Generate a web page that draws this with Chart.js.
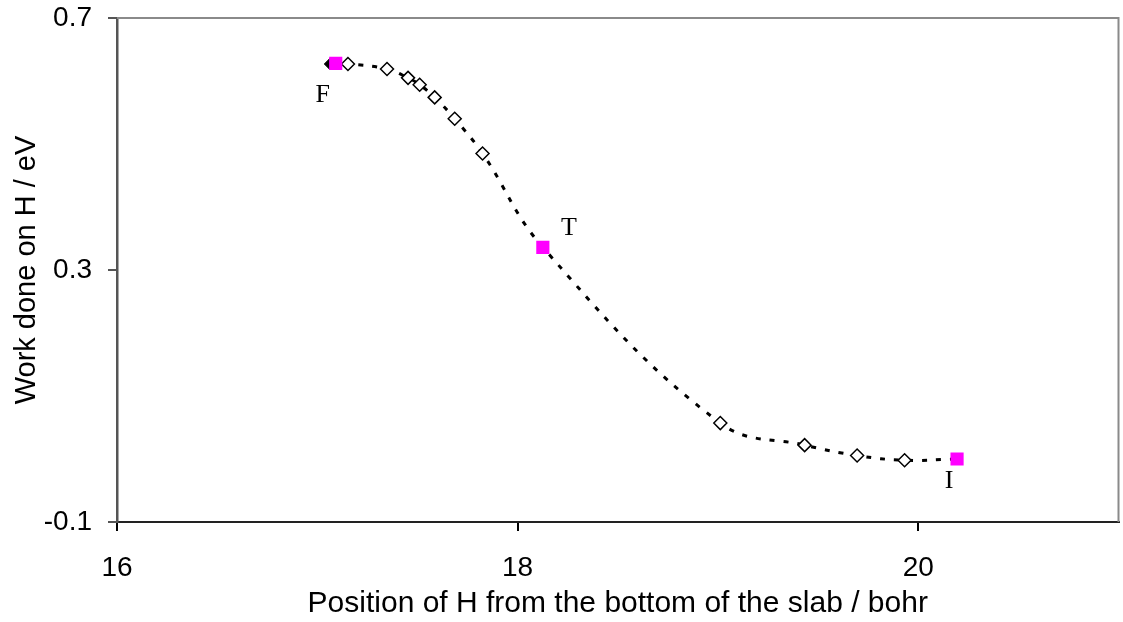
<!DOCTYPE html>
<html>
<head>
<meta charset="utf-8">
<script src="https://cdn.jsdelivr.net/npm/chart.js@4.4.1/dist/chart.umd.min.js"></script>
<style>
  html, body { margin: 0; padding: 0; background: #fff; }
  #wrap { width: 1123px; height: 622px; }
</style>
</head>
<body>
<div id="wrap"><canvas id="workChart" width="1123" height="622"></canvas></div>
<script>
// data
const pathX = [17.065, 17.153, 17.348, 17.453, 17.511, 17.586, 17.686, 17.825, 18.126, 19.012, 19.433, 19.695, 19.932, 20.194];
const pathY = [0.627, 0.627, 0.619, 0.605, 0.594, 0.574, 0.540, 0.485, 0.336, 0.057, 0.022, 0.0055, -0.002, 0.000];

const diamondX = [17.153, 17.348, 17.453, 17.511, 17.586, 17.686, 17.825, 19.012, 19.433, 19.695, 19.932];
const diamondY = [0.627, 0.619, 0.605, 0.594, 0.574, 0.540, 0.485, 0.057, 0.022, 0.0055, -0.002];

const startX = [17.065];
const startY = [0.627];

const keyX = [17.092, 18.126, 20.194];
const keyY = [0.628, 0.336, 0.000];
const keyLabels = ['F', 'T', 'I'];

const xTicks = [16, 18, 20];
const yTicks = [-0.1, 0.3, 0.7];

const toPoints = (xs, ys) => xs.map((x, i) => ({ x: x, y: ys[i] }));

document.addEventListener('DOMContentLoaded', () => {

    // 1. FRAME (top + right edges) AND F/T/I LABELS
    const framePlugin = {
        id: 'frame',
        afterDraw(chart) {
            const { ctx, chartArea: a, scales } = chart;
            ctx.save();
            ctx.strokeStyle = '#8a8a8a';
            ctx.lineWidth = 2;
            ctx.beginPath();
            ctx.moveTo(a.left, a.top);
            ctx.lineTo(a.right, a.top);
            ctx.lineTo(a.right, a.bottom);
            ctx.stroke();

            // label offsets from each key point, in px
            const offs = [[-13, 32], [26, -19], [-8, 22]];
            ctx.fillStyle = '#000';
            ctx.font = '26px "Liberation Serif", "Times New Roman", serif';
            ctx.textAlign = 'center';
            ctx.textBaseline = 'middle';
            keyLabels.forEach((t, i) => {
                const px = scales.x.getPixelForValue(keyX[i]) + offs[i][0];
                const py = scales.y.getPixelForValue(keyY[i]) + offs[i][1];
                ctx.fillText(t, px, py);
            });
            ctx.restore();
        }
    };

    const sans = '"Liberation Sans", Arial, sans-serif';

    // 2. CHART
    const ctx = document.getElementById('workChart').getContext('2d');
    new Chart(ctx, {
        type: 'scatter',
        data: {
            datasets: [
                {
                    label: 'key',
                    data: toPoints(keyX, keyY),
                    pointStyle: 'rect',
                    pointRadius: 9.3,
                    backgroundColor: '#ff00ff',
                    borderColor: '#ff00ff',
                    borderWidth: 0,
                    order: 0
                },
                {
                    label: 'start',
                    data: toPoints(startX, startY),
                    pointStyle: 'rectRot',
                    pointRadius: 6,
                    backgroundColor: '#000',
                    borderColor: '#000',
                    borderWidth: 1,
                    order: 1
                },
                {
                    label: 'images',
                    data: toPoints(diamondX, diamondY),
                    pointStyle: 'rectRot',
                    pointRadius: 6.5,
                    backgroundColor: '#fff',
                    borderColor: '#000',
                    borderWidth: 1.5,
                    order: 2
                },
                {
                    label: 'path',
                    data: toPoints(pathX, pathY),
                    showLine: true,
                    pointRadius: 0,
                    borderColor: '#000',
                    borderWidth: 3,
                    borderDash: [5, 9],
                    tension: 0.4,
                    fill: false,
                    order: 3
                }
            ]
        },
        options: {
            responsive: false,
            animation: false,
            devicePixelRatio: 1,
            layout: { autoPadding: false, padding: { top: 18, right: 4.5, left: 0, bottom: 0 } },
            plugins: {
                legend: { display: false },
                tooltip: { enabled: false }
            },
            scales: {
                x: {
                    type: 'linear',
                    min: 16,
                    max: 21,
                    afterBuildTicks: (s) => { s.ticks = xTicks.map(v => ({ value: v })); },
                    afterFit: (s) => { s.height = 100; s.paddingLeft = 0; s.paddingRight = 0; },
                    grid: { drawOnChartArea: false, drawTicks: true, tickLength: 9, color: '#000', lineWidth: 2 },
                    border: { display: true, color: '#222', width: 2 },
                    ticks: {
                        color: '#000',
                        padding: 20,
                        maxRotation: 0,
                        font: { family: sans, size: 28 },
                        callback: (v) => String(v)
                    },
                    title: {
                        display: true,
                        text: 'Position of H from the bottom of the slab / bohr',
                        color: '#000',
                        font: { family: sans, size: 30 },
                        padding: { top: 0, bottom: 0 }
                    }
                },
                y: {
                    type: 'linear',
                    min: -0.1,
                    max: 0.7,
                    afterBuildTicks: (s) => { s.ticks = yTicks.map(v => ({ value: v })); },
                    afterFit: (s) => { s.width = 117; s.paddingTop = 0; s.paddingBottom = 0; },
                    grid: { drawOnChartArea: false, drawTicks: true, tickLength: 9, color: '#555', lineWidth: 2 },
                    border: { display: true, color: '#555', width: 2.5 },
                    ticks: {
                        color: '#000',
                        padding: 16,
                        font: { family: sans, size: 28 },
                        callback: (v) => String(v)
                    },
                    title: {
                        display: true,
                        text: 'Work done on H / eV',
                        color: '#000',
                        font: { family: sans, size: 29 },
                        padding: { top: 10, bottom: 0 }
                    }
                }
            }
        },
        plugins: [framePlugin]
    });
});
</script>
</body>
</html>
